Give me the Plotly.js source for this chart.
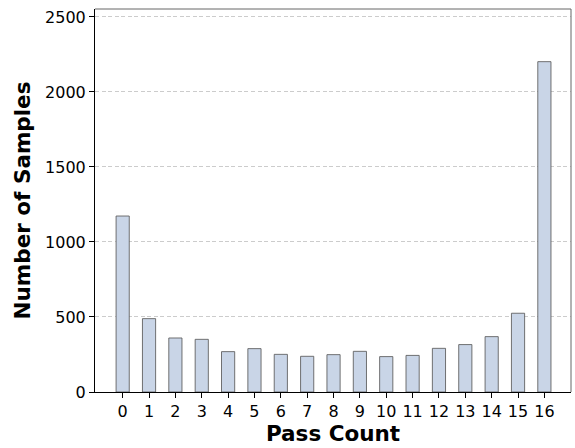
<!DOCTYPE html>
<html>
<head>
<meta charset="utf-8">
<script src="https://cdn.plot.ly/plotly-3.0.1.min.js"></script>
<style>html,body{margin:0;padding:0;background:#fff;}#chart{width:575px;height:448px;}</style>
</head>
<body>
<div id="chart"></div>
<script>
const passCounts = [0,1,2,3,4,5,6,7,8,9,10,11,12,13,14,15,16];
const sampleCounts = [1173,489,360,351,269,289,251,238,249,271,236,244,291,316,369,525,2202];
const yTicks = [0,500,1000,1500,2000,2500];

const trace = {
  type: 'bar',
  x: passCounts,
  y: sampleCounts,
  width: 0.5,
  marker: {color: '#c9d5e7', line: {color: 'rgba(90,90,90,0.85)', width: 1}},
  hoverinfo: 'x+y'
};

const layout = {
  width: 575, height: 448,
  margin: {l: 95, r: 4, t: 9, b: 56},
  paper_bgcolor: '#fff', plot_bgcolor: '#fff',
  font: {family: 'DejaVu Sans, sans-serif', color: '#000', size: 16},
  showlegend: false,
  bargap: 0,
  xaxis: {
    range: [-1.05, 17.01],
    tickvals: passCounts,
    ticktext: passCounts.map(String),
    ticks: 'outside', ticklen: 5, tickwidth: 1, tickcolor: '#000',
    showgrid: false, zeroline: false,
    showline: true, linecolor: '#000', linewidth: 1,
    tickfont: {size: 16},
    title: {text: '<b>Pass Count</b>', font: {size: 21.5}, standoff: 4}
  },
  yaxis: {
    range: [0, 2553],
    tickvals: yTicks,
    ticks: 'outside', ticklen: 5, tickwidth: 1, tickcolor: '#000',
    showgrid: true, gridcolor: '#cccccc', griddash: '4px,2.5px', gridwidth: 1,
    zeroline: false,
    showline: true, linecolor: '#000', linewidth: 1,
    tickfont: {size: 16},
    title: {text: '<b>Number of Samples</b>', font: {size: 21.5}, standoff: 8}
  },
  shapes: [
    {type: 'line', xref: 'paper', yref: 'paper', x0: 0, x1: 1, y0: 1, y1: 1, line: {color: '#666', width: 1}},
    {type: 'line', xref: 'paper', yref: 'paper', x0: 1, x1: 1, y0: 0, y1: 1, line: {color: '#666', width: 1}}
  ]
};

Plotly.newPlot('chart', [trace], layout, {staticPlot: true, displayModeBar: false});
</script>
</body>
</html>
